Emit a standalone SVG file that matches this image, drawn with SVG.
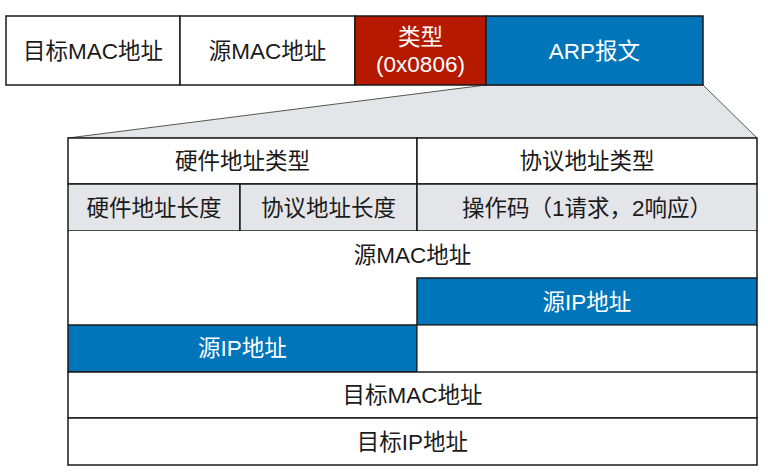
<svg xmlns="http://www.w3.org/2000/svg" width="768" height="476" viewBox="0 0 768 476">
<style>
text{font-family:"Liberation Sans","Noto Sans CJK SC",sans-serif;font-size:22.5px;text-anchor:middle;fill:#1a1a1a}
.w{fill:#ffffff}
.cell{stroke:#1a1a1a;stroke-width:1.5}
.white{fill:#ffffff}
.gray{fill:#e4e5e9}
.red{fill:#b51a00}
.blue{fill:#0075b9}
.ln{stroke:#1a1a1a;stroke-width:1.5;fill:none}
</style>
<rect width="768" height="476" fill="#ffffff"/>
<g id="connectors">
<polygon points="486,85 703,85 757,138 68,138" fill="#e4e5e9" stroke="#555555" stroke-width="1"/>
</g>
<g id="frame-dst-mac"><rect class="cell white" x="6" y="16" width="174" height="69"/><text x="93" y="58.5">目标MAC地址</text></g>
<g id="frame-src-mac"><rect class="cell white" x="180" y="16" width="175" height="69"/><text x="267.5" y="58.5">源MAC地址</text></g>
<g id="frame-type"><rect class="cell red" x="355" y="16" width="131" height="69"/><text class="w" x="420.5" y="45">类型</text><text class="w" x="420.5" y="71.5">(0x0806)</text></g>
<g id="frame-arp"><rect class="cell blue" x="486" y="16" width="217" height="69"/><text class="w" x="594.5" y="58.5">ARP报文</text></g>
<g id="arp-hw-type"><rect class="cell white" x="68" y="138" width="349" height="46"/><text x="242.5" y="169">硬件地址类型</text></g>
<g id="arp-proto-type"><rect class="cell white" x="417" y="138" width="340" height="46"/><text x="587" y="169">协议地址类型</text></g>
<g id="arp-hw-len"><rect class="cell gray" x="68" y="184" width="172" height="47"/><text x="154" y="215.5">硬件地址长度</text></g>
<g id="arp-proto-len"><rect class="cell gray" x="240" y="184" width="177" height="47"/><text x="328.5" y="215.5">协议地址长度</text></g>
<g id="arp-opcode"><rect class="cell gray" x="417" y="184" width="340" height="47"/><text x="587" y="215.5">操作码（1请求，2响应）</text></g>
<g id="arp-src-mac"><rect class="white" x="68" y="231" width="689" height="94"/><path class="ln" d="M68,231 V325 M757,231 V278"/><text x="412.5" y="262.5">源MAC地址</text></g>
<g id="arp-src-ip-a"><rect class="cell blue" x="417" y="278" width="340" height="47"/><text class="w" x="587" y="309.5">源IP地址</text></g>
<g id="arp-src-ip-b"><rect class="cell blue" x="68" y="325" width="349" height="47"/><rect class="white" x="417.75" y="325.75" width="338.5" height="45.5"/><path class="ln" d="M757,325 V372"/><text class="w" x="242.5" y="356">源IP地址</text></g>
<g id="arp-dst-mac"><rect class="cell white" x="68" y="372" width="689" height="46"/><text x="412.5" y="403">目标MAC地址</text></g>
<g id="arp-dst-ip"><rect class="cell white" x="68" y="418" width="689" height="47"/><text x="412.5" y="449.5">目标IP地址</text></g>
</svg>
